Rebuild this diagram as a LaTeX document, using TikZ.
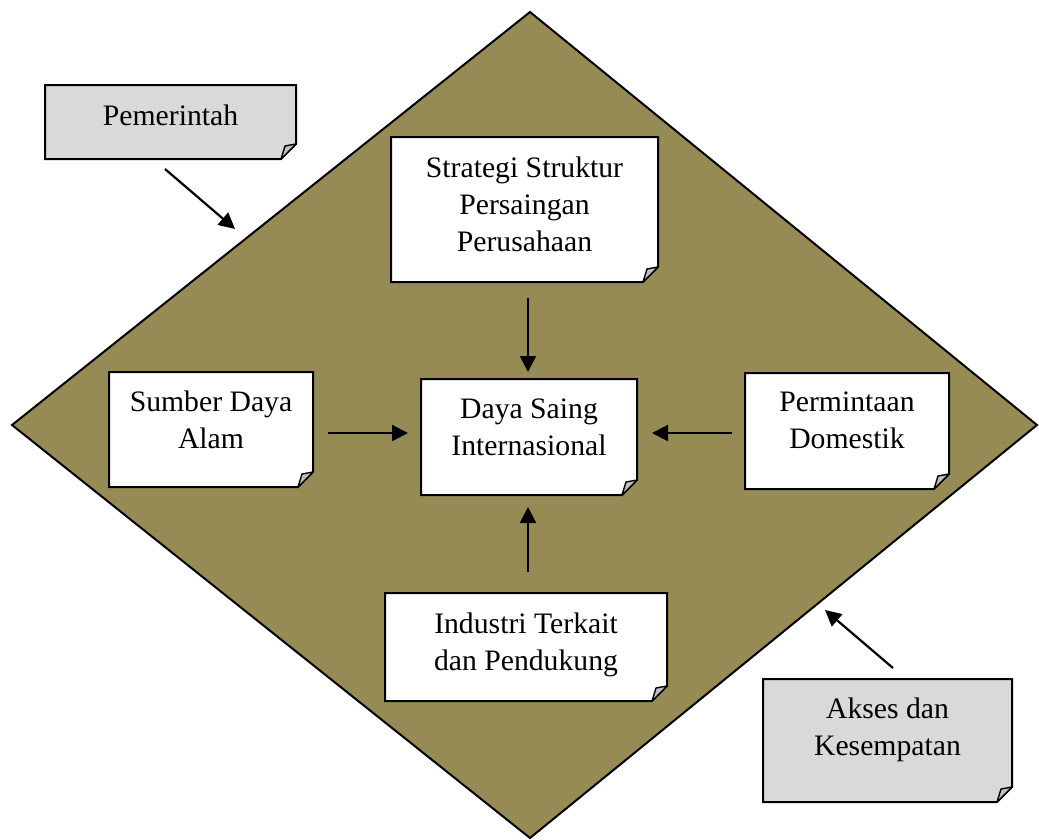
\documentclass[tikz,border=0pt]{standalone}
\usepackage{fontspec}
\setmainfont{Liberation Serif}
\usetikzlibrary{positioning,arrows.meta,backgrounds}
\definecolor{diamondfill}{RGB}{150,139,85}
\definecolor{boxgray}{RGB}{217,217,217}
\definecolor{foldgray}{RGB}{192,192,192}
\tikzset{
	box/.style={rectangle, inner sep=0pt, outer sep=0pt},
	lbl/.style={inner sep=0pt, align=center, font=\fontsize{29.7}{37}\selectfont},
	arr/.style={line width=2.2pt, -{Triangle[length=16pt,width=16pt]}},
	edge/.style={line width=2pt, line join=miter}
}

\begin{document}
\begin{tikzpicture}[x=1pt, y=-1pt]
	\useasboundingbox (0,0) rectangle (1039,839);

	\node[box, minimum width=251pt, minimum height=74pt] (pem) at (170.5,122) {};
	\node[box, minimum width=267pt, minimum height=145pt] (str) at (524.5,209.5) {};
	\node[box, minimum width=204pt, minimum height=115pt] (sda) at (211,429.5) {};
	\node[box, minimum width=216pt, minimum height=116pt] (dsi) at (529,437) {};
	\node[box, minimum width=204pt, minimum height=116pt] (pdo) at (847,431) {};
	\node[box, minimum width=282pt, minimum height=108pt] (ind) at (526,647) {};
	\node[box, minimum width=249pt, minimum height=123pt] (aks) at (887.5,740.5) {};

	\begin{scope}[on background layer]
		\draw[edge, fill=diamondfill] (530,12) -- (1037,425) -- (530,838) -- (12,425) -- cycle;
		\foreach \n/\c in {pem/boxgray, str/white, sda/white, dsi/white, pdo/white, ind/white, aks/boxgray}{
			\draw[edge, fill=\c] (\n.north west) -- (\n.north east) -- ([yshift=15pt]\n.south east)
				-- ([xshift=-15pt]\n.south east) -- (\n.south west) -- cycle;
			\draw[line width=1.4pt, fill=foldgray, line join=round] ([yshift=15pt]\n.south east)
				-- ([xshift=-11pt,yshift=13pt]\n.south east) -- ([xshift=-15pt]\n.south east) -- cycle;
		}
	\end{scope}

	\node[lbl, below=20pt of pem.north] (pem-t) {Pemerintah};
	\node[lbl, below=20pt of str.north] (str-t) {Strategi Struktur\\Persaingan\\Perusahaan};
	\node[lbl, below=19pt of sda.north] (sda-t) {Sumber Daya\\Alam};
	\node[lbl, below=20pt of dsi.north] (dsi-t) {Daya Saing\\Internasional};
	\node[lbl, below=19pt of pdo.north] (pdo-t) {Permintaan\\Domestik};
	\node[lbl, below=20pt of ind.north] (ind-t) {Industri Terkait\\dan Pendukung};
	\node[lbl, below=19pt of aks.north] (aks-t) {Akses dan\\Kesempatan};

	\coordinate (pem-a) at (165,169);
	\coordinate (pem-b) at (235,229);
	\coordinate (aks-a) at (893,668);
	\coordinate (aks-b) at (825,610);

	\draw[arr] (pem-a) -- (pem-b);
	\draw[arr] ([xshift=3.5pt,yshift=-16pt]str.south) -- ([xshift=-1pt,yshift=7pt]dsi.north);
	\draw[arr] ([xshift=15pt,yshift=-3.5pt]sda.east) -- ([xshift=-13pt,yshift=4pt]dsi.west);
	\draw[arr] ([xshift=-13pt,yshift=-2pt]pdo.west) -- ([xshift=15pt,yshift=4pt]dsi.east);
	\draw[arr] ([xshift=2pt,yshift=21pt]ind.north) -- ([xshift=-1pt,yshift=-12pt]dsi.south);
	\draw[arr] (aks-a) -- (aks-b);
\end{tikzpicture}
\end{document}
